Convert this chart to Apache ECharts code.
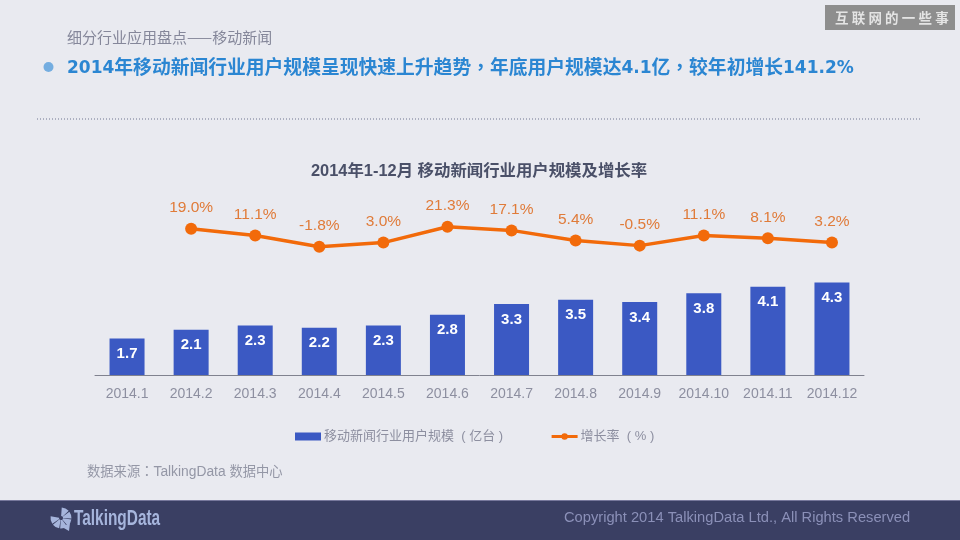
<!DOCTYPE html>
<html>
<head>
<meta charset="utf-8">
<style>
  html, body { margin: 0; padding: 0; background: #e9eaf0; }
  #chart { width: 960px; height: 540px; }
</style>
<script src="https://cdn.jsdelivr.net/npm/echarts@6/dist/echarts.min.js"></script>
</head>
<body>
<div id="chart"></div>
<script>
var months = ['2014.1', '2014.2', '2014.3', '2014.4', '2014.5', '2014.6', '2014.7', '2014.8', '2014.9', '2014.10', '2014.11', '2014.12'];
var users = [1.7, 2.1, 2.3, 2.2, 2.3, 2.8, 3.3, 3.5, 3.4, 3.8, 4.1, 4.3];
var growth = [null, 19.0, 11.1, -1.8, 3.0, 21.3, 17.1, 5.4, -0.5, 11.1, 8.1, 3.2];
var usersName = '移动新闻行业用户规模  ( 亿台 )';
var growthName = '增长率  ( % )';

var latin = '"Liberation Sans", "Noto Sans CJK SC", sans-serif';
var chart = echarts.init(document.getElementById('chart'), null, { renderer: 'canvas' });

// 页面上的文字和装饰
var logoPetals = [
  [-1.5, -0.75], [-0.65, 0.05], [0.15, 0.85], [0.95, 1.65], [1.75, 2.45], [2.55, 3.3]
];
var graphics = [
  { type: 'rect', silent: true, shape: { x: 0, y: 500, width: 960, height: 40 }, style: { fill: '#3a3f63' } },
  { type: 'rect', silent: true, shape: { x: 0, y: 500, width: 960, height: 1 }, style: { fill: '#77789c' } },
  { type: 'rect', silent: true, shape: { x: 825, y: 5, width: 130, height: 25 }, style: { fill: '#8e8e8e' } },
  { type: 'text', silent: true, style: { x: 67, y: 37, text: '细分行业应用盘点——移动新闻', fill: '#85879a', font: '15px "Noto Sans CJK SC"', textVerticalAlign: 'middle' } },
  { type: 'circle', silent: true, shape: { cx: 48.5, cy: 67, r: 5 }, style: { fill: '#74ade0' } },
  {
    type: 'text', silent: true,
    style: {
      x: 67, y: 67,
      text: '{l|2014}{c|年移动新闻行业用户规模呈现快速上升趋势}{p|，}{c|年底用户规模达}{l|4.1}{c|亿}{p|，}{c|较年初增长}{l|141.2%}',
      textVerticalAlign: 'middle',
      rich: {
        l: { fill: '#2b86d2', font: 'bold 17px "DejaVu Sans"', padding: [4, 0, 0, 0] },
        c: { fill: '#2b86d2', font: 'bold 18.8px "Noto Sans CJK SC"' },
        p: { fill: '#2b86d2', font: 'bold 18.8px "Noto Sans CJK TC"' }
      }
    }
  },
  { type: 'line', silent: true, shape: { x1: 37, y1: 119, x2: 921, y2: 119 }, style: { stroke: '#6f7590', lineWidth: 1, lineDash: [1, 2] } },
  {
    type: 'text', silent: true,
    style: {
      x: 87, y: 471,
      text: '{c|数据来源}{p|：}{l|TalkingData }{c|数据中心}',
      textVerticalAlign: 'middle',
      rich: {
        c: { fill: '#9497a6', font: '13.3px "Noto Sans CJK SC"' },
        p: { fill: '#9497a6', font: '13.3px "Noto Sans CJK TC"' },
        l: { fill: '#9497a6', font: '13.8px "Liberation Sans"', padding: [2, 0, 0, 0] }
      }
    }
  },
  { type: 'polygon', silent: true, shape: { points: [[62, 527], [70, 523], [69, 531]] }, style: { fill: '#a6b5dc' } },
  { type: 'text', silent: true, x: 74, y: 519, scaleX: 0.7, style: { x: 0, y: 0, text: 'TalkingData', fill: '#a6b5dc', font: 'bold 22px "Liberation Sans"', textVerticalAlign: 'middle' } },
  { type: 'text', silent: true, style: { x: 564, y: 518, text: 'Copyright 2014 TalkingData Ltd., All Rights Reserved', fill: '#8b90b8', font: '14.7px "Liberation Sans"', textVerticalAlign: 'middle' } }
];
'互联网的一些事'.split('').forEach(function (ch, i) {
  graphics.push({
    type: 'text', silent: true,
    style: { x: 835 + i * 16.7, y: 18, text: ch, fill: '#e4e4e4', font: 'bold 13.5px "Noto Sans CJK SC"', textVerticalAlign: 'middle' }
  });
});
logoPetals.forEach(function (p) {
  graphics.push({
    type: 'sector', silent: true,
    shape: { cx: 61, cy: 518, r0: 2, r: 10.5, startAngle: p[0], endAngle: p[1] },
    style: { fill: '#a6b5dc' }
  });
});

var option = {
  backgroundColor: '#e9eaf0',
  animation: false,
  title: {
    text: '2014年1-12月 移动新闻行业用户规模及增长率',
    left: 306,
    top: 158,
    textStyle: { color: '#4a5068', fontSize: 16.4, fontWeight: 'bold', fontFamily: latin }
  },
  legend: {
    left: 290,
    top: 425,
    itemWidth: 26,
    itemHeight: 8,
    itemGap: 47,
    textStyle: { color: '#8d8fa0', fontSize: 13, fontFamily: latin, padding: [0, 0, 0, -2] },
    data: [
      { name: usersName, icon: 'rect' },
      { name: growthName, lineStyle: { width: 3 } }
    ]
  },
  grid: { left: 95, right: 96, top: 195, bottom: 165 },
  xAxis: {
    type: 'category',
    data: months,
    axisLine: { lineStyle: { color: '#80828f', width: 1 } },
    axisTick: { show: false },
    axisLabel: { color: '#8d8fa0', fontSize: 14, margin: 12, fontFamily: latin, interval: 0 }
  },
  yAxis: [
    { type: 'value', min: 0, max: 8.37, show: false, splitLine: { show: false } },
    { type: 'value', min: -150, max: 58, show: false, splitLine: { show: false } }
  ],
  series: [
    {
      name: usersName,
      type: 'bar',
      data: users,
      barWidth: 35,
      itemStyle: { color: '#3b59c3' },
      label: {
        show: true,
        position: 'insideTop',
        distance: 8,
        color: '#ffffff',
        fontSize: 15,
        fontWeight: 'bold',
        fontFamily: latin,
        formatter: function (p) { return p.value.toFixed(1); }
      }
    },
    {
      name: growthName,
      type: 'line',
      yAxisIndex: 1,
      data: growth,
      symbol: 'circle',
      symbolSize: 12,
      lineStyle: { color: '#f26a0a', width: 3.5 },
      itemStyle: { color: '#f26a0a' },
      label: {
        show: true,
        position: 'top',
        distance: 7,
        color: '#e07b39',
        fontSize: 15.5,
        fontFamily: latin,
        formatter: function (p) { return p.value.toFixed(1) + '%'; }
      }
    }
  ],
  graphic: graphics
};
chart.setOption(option);
</script>
</body>
</html>
